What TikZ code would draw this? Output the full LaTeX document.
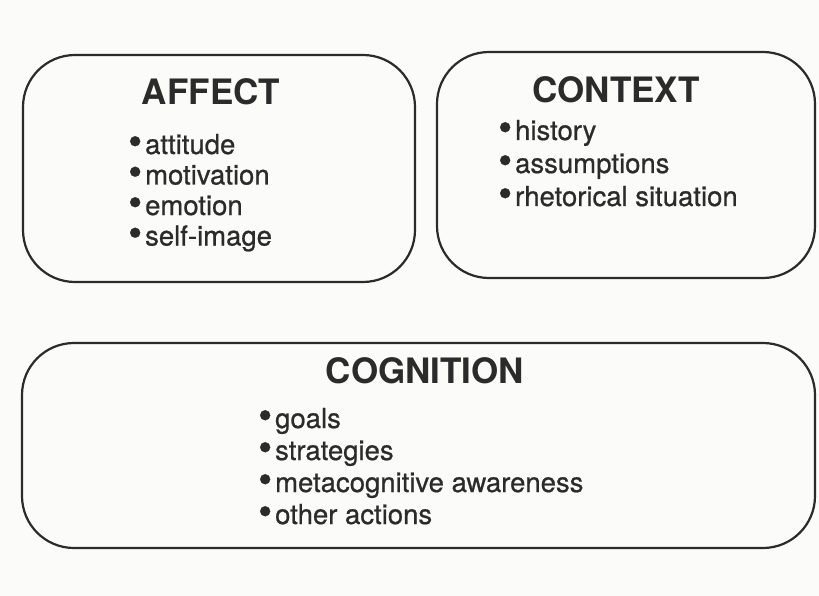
\documentclass[tikz,border=0pt]{standalone}
\usepackage{fontspec}
\setmainfont{TeX Gyre Heros}
\newfontfamily\itemfont[FakeBold=0.7]{TeX Gyre Heros}
\definecolor{ink}{HTML}{2B2B2B}
\definecolor{paper}{HTML}{FBFBF9}
\newcommand\bul{\raisebox{-1pt}{\scalebox{1.45}{\textbullet}}\hspace{3pt}}
\begin{document}
\begin{tikzpicture}[x=1pt,y=-1pt,
  box/.style={draw=ink, line width=2.2pt, rounded corners=52pt, inner sep=0pt},
  title/.style={font=\fontsize{35}{35}\selectfont\bfseries, text=ink, anchor=base, inner sep=0pt},
  item/.style={font=\itemfont\fontsize{27.5}{31}\selectfont, text=ink, anchor=base west, inner sep=0pt}]
\fill[paper] (0,0) rectangle (819,596);
\useasboundingbox (0,0) rectangle (819,596);
% boxes
\node[box, minimum width=392pt, minimum height=227pt] (affect) at (219,168.5) {};
\node[box, minimum width=378pt, minimum height=226pt] (context) at (626,165) {};
\node[box, minimum width=793pt, minimum height=205pt] (cognition) at (418.5,445.5) {};
% titles
\node[title] (taffect) at (211,105) {AFFECT};
\node[title] (tcontext) at (616,103) {CONTEXT};
\node[title] (tcognition) at (425,383) {COGNITION};
% lists
\node[item] (a1) at (128,154) {\bul attitude};
\node[item] (a2) at (128,184.5) {\bul motivation};
\node[item] (a3) at (128,215) {\bul emotion};
\node[item] (a4) at (128,245.5) {\bul self-image};
\node[item] (c1) at (498,140) {\bul history};
\node[item] (c2) at (498,173) {\bul assumptions};
\node[item] (c3) at (498,206) {\bul rhetorical situation};
\node[item] (g1) at (258,428) {\bul goals};
\node[item] (g2) at (258,460) {\bul strategies};
\node[item] (g3) at (258,492) {\bul metacognitive awareness};
\node[item] (g4) at (258,524) {\bul other actions};
\end{tikzpicture}
\end{document}
